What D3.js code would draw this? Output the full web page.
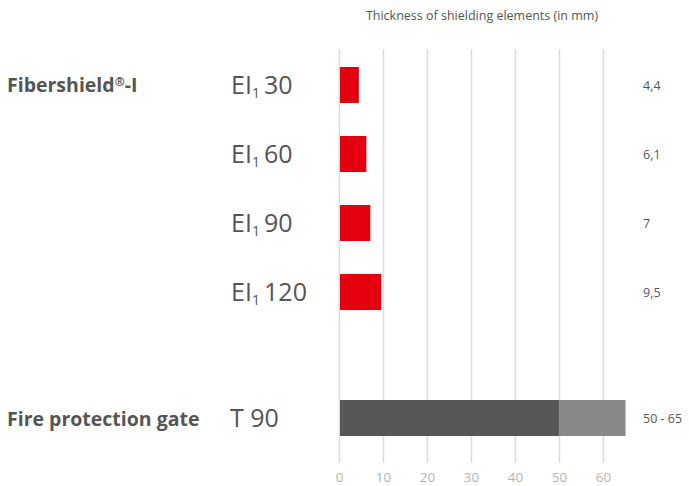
<!DOCTYPE html>
<html>
<head>
<meta charset="utf-8">
<script src="https://cdn.jsdelivr.net/npm/d3@7"></script>
<style>
  body { margin: 0; background: #fff; }
  text { font-family: "Open Sans", sans-serif; }
</style>
</head>
<body>
<div id="container"></div>
<script>
// values
const classes = ['30', '60', '90', '120'];
const classValues = [4.4, 6.1, 7, 9.5];
const classLabels = ['4,4', '6,1', '7', '9,5'];
const gateClass = 'T 90';
const gateRange = [50, 65];
const gateLabel = '50 - 65';
const xTicks = [0, 10, 20, 30, 40, 50, 60];
const groupNames = ['Fibershield', 'Fire protection gate'];
const axisTitle = 'Thickness of shielding elements (in mm)';

const width = 689, height = 486;
const textColor = '#555555';

const svg = d3.select('#container')
  .append('svg')
  .attr('width', width)
  .attr('height', height);

const x = d3.scaleLinear()
  .domain([0, 60])
  .range([339.5, 603.5]);

// fibershield rows
const y = d3.scaleBand()
  .domain(classes)
  .range([50.5, 326.5])
  .paddingInner(33 / 69)
  .paddingOuter(33 / 138);

// gate row
const yGate = d3.scaleBand()
  .domain([gateClass])
  .range([400, 436]);

// grid lines
svg.append('g')
  .selectAll('line')
  .data(xTicks)
  .join('line')
  .attr('x1', d => x(d))
  .attr('x2', d => x(d))
  .attr('y1', 49)
  .attr('y2', 463)
  .attr('stroke', '#dcdcdc')
  .attr('stroke-width', 1.6);

// tick labels
svg.append('g')
  .selectAll('text')
  .data(xTicks)
  .join('text')
  .attr('x', d => x(d))
  .attr('y', 482)
  .attr('text-anchor', 'middle')
  .attr('font-size', 13.5)
  .attr('fill', '#b4b4b4')
  .text(d => d);

// axis title
svg.append('text')
  .attr('x', 482)
  .attr('y', 20)
  .attr('text-anchor', 'middle')
  .attr('font-size', 12.5)
  .attr('fill', textColor)
  .text(axisTitle);

// red bars
svg.append('g')
  .selectAll('rect')
  .data(classes)
  .join('rect')
  .attr('x', x(0) + 0.5)
  .attr('y', d => y(d))
  .attr('width', (d, i) => x(classValues[i]) - x(0) - 0.5)
  .attr('height', y.bandwidth())
  .attr('fill', '#e3000f');

// gate bars
const g0 = yGate(gateClass);
svg.append('rect')
  .attr('x', x(0) + 0.5)
  .attr('y', g0)
  .attr('width', x(gateRange[0]) - x(0) - 0.5)
  .attr('height', yGate.bandwidth())
  .attr('fill', '#575757');
svg.append('rect')
  .attr('x', x(gateRange[0]))
  .attr('y', g0)
  .attr('width', x(gateRange[1]) - x(gateRange[0]))
  .attr('height', yGate.bandwidth())
  .attr('fill', '#888888');

// class labels EI1 xx
const cls = svg.append('g')
  .selectAll('text')
  .data(classes)
  .join('text')
  .attr('x', 231)
  .attr('y', d => y(d) + y.bandwidth() / 2 + 9)
  .attr('font-size', 25)
  .attr('fill', textColor);
cls.append('tspan').text('EI');
cls.append('tspan').attr('font-size', 14).attr('dy', 4).text('1');
cls.append('tspan').attr('dy', -4).text(d => '\u2009' + d);

svg.append('text')
  .attr('x', 230)
  .attr('y', g0 + yGate.bandwidth() / 2 + 9)
  .attr('font-size', 25)
  .attr('fill', textColor)
  .text(gateClass);

// value labels
svg.append('g')
  .selectAll('text')
  .data(classes)
  .join('text')
  .attr('x', 643)
  .attr('y', d => y(d) + y.bandwidth() / 2 + 4.5)
  .attr('font-size', 12.5)
  .attr('fill', textColor)
  .text((d, i) => classLabels[i]);

svg.append('text')
  .attr('x', 643)
  .attr('y', g0 + yGate.bandwidth() / 2 + 4.5)
  .attr('font-size', 12.5)
  .attr('fill', textColor)
  .text(gateLabel);

// group names
const fs = svg.append('text')
  .attr('x', 7)
  .attr('y', y(classes[0]) + y.bandwidth() / 2 + 7)
  .attr('font-size', 19.5)
  .attr('font-weight', 'bold')
  .attr('fill', textColor);
fs.append('tspan').text(groupNames[0]);
fs.append('tspan').attr('font-size', 12).attr('dy', -6).text('®');
fs.append('tspan').attr('dy', 6).text('-I');

svg.append('text')
  .attr('x', 7)
  .attr('y', g0 + yGate.bandwidth() / 2 + 8)
  .attr('font-size', 19.5)
  .attr('font-weight', 'bold')
  .attr('fill', textColor)
  .text(groupNames[1]);
</script>
</body>
</html>
